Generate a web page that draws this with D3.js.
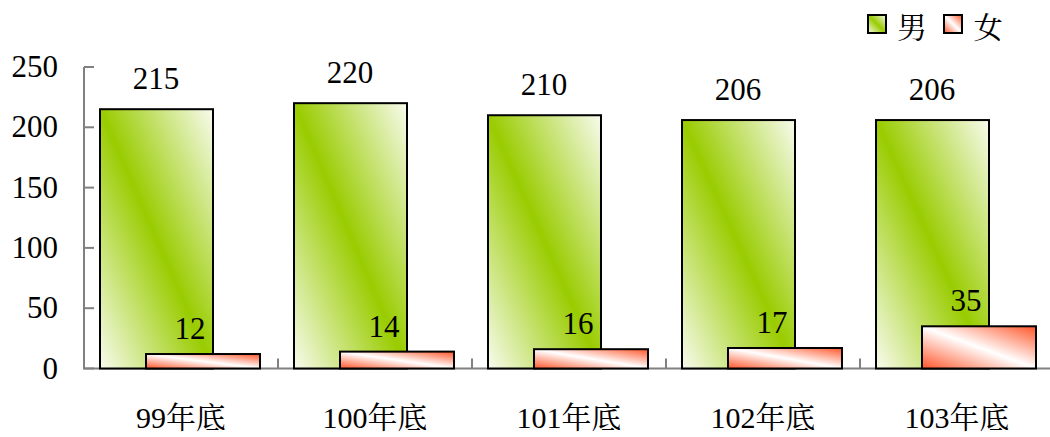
<!DOCTYPE html>
<html><head><meta charset="utf-8">
<script src="https://cdn.jsdelivr.net/npm/d3@7"></script>
<style>
html,body{margin:0;padding:0;background:#fff;}
</style></head>
<body><svg id="c" width="1050" height="437"></svg>
<script>
const categories = ["99年底","100年底","101年底","102年底","103年底"];
const maleValues = [215,220,210,206,206];
const femaleValues = [12,14,16,17,35];
const seriesNames = ["男","女"];
const yTicks = [0,50,100,150,200,250];

const FONT = "'Times New Roman', Tinos, 'Noto Serif CJK TC', serif";
const svg = d3.select("#c");
const defs = svg.append("defs");
const gm = defs.append("linearGradient").attr("id","gMale")
  .attr("x1",0).attr("y1",1).attr("x2",1).attr("y2",0);
gm.append("stop").attr("offset","0%").attr("stop-color","#f8fbee");
gm.append("stop").attr("offset","50%").attr("stop-color","#99cc00");
gm.append("stop").attr("offset","100%").attr("stop-color","#f8fbee");
const gf = defs.append("linearGradient").attr("id","gFemale")
  .attr("x1",0).attr("y1",1).attr("x2",1).attr("y2",0);
gf.append("stop").attr("offset","0%").attr("stop-color","#ff5529");
gf.append("stop").attr("offset","50%").attr("stop-color","#ffffff");
gf.append("stop").attr("offset","100%").attr("stop-color","#ff5529");

const x = d3.scaleBand().domain(categories).range([84,1054]).paddingInner(0).paddingOuter(0);
const y = d3.scaleLinear().domain([0,250]).range([368.5,67]);

function txt(xp, yp, s, anchor, size){
  return svg.append("text").attr("x",xp).attr("y",yp).attr("text-anchor",anchor)
    .style("font-family", FONT).style("font-size", size+"px").style("fill","#000").text(s);
}

const axisColor = "#808080";
svg.append("line").attr("x1",84).attr("x2",84).attr("y1",y(250)).attr("y2",y(0))
  .attr("stroke",axisColor).attr("stroke-width",2);
svg.append("line").attr("x1",83).attr("x2",1050).attr("y1",y(0)).attr("y2",y(0))
  .attr("stroke",axisColor).attr("stroke-width",2);
yTicks.forEach(t=>{
  svg.append("line").attr("x1",84).attr("x2",94).attr("y1",y(t)).attr("y2",y(t))
    .attr("stroke",axisColor).attr("stroke-width",2);
  txt(58, y(t)+10, t, "end", 31);
});
categories.forEach((c,i)=>{
  if(i>0){
    svg.append("line").attr("x1",x(c)).attr("x2",x(c)).attr("y1",y(0)).attr("y2",y(0)-10)
      .attr("stroke",axisColor).attr("stroke-width",2);
  }
  txt(x(c)+x.bandwidth()/2, 428, c, "middle", 30);
});

const bw = 113;
categories.forEach((c,i)=>{
  const cx = x(c)+x.bandwidth()/2;
  const v = maleValues[i];
  svg.append("rect").attr("x",cx-81).attr("y",y(v)).attr("width",bw).attr("height",y(0)-y(v))
    .attr("fill","url(#gMale)").attr("stroke","#000").attr("stroke-width",2);
  txt(cx-25, y(v)-20, v, "middle", 31);
});
categories.forEach((c,i)=>{
  const cx = x(c)+x.bandwidth()/2;
  const v = femaleValues[i];
  svg.append("rect").attr("x",cx-35).attr("y",y(v)).attr("width",bw+1).attr("height",y(0)-y(v))
    .attr("fill","url(#gFemale)").attr("stroke","#000").attr("stroke-width",2);
  txt(cx+9, y(v)-15, v, "middle", 31);
});

const legX = [868, 944];
["url(#gMale)","url(#gFemale)"].forEach((f,i)=>{
  svg.append("rect").attr("x",legX[i]).attr("y",15).attr("width",18).attr("height",18)
    .attr("fill",f).attr("stroke","#000").attr("stroke-width",2);
  txt(legX[i]+29, 38, seriesNames[i], "start", 30);
});
</script></body></html>
